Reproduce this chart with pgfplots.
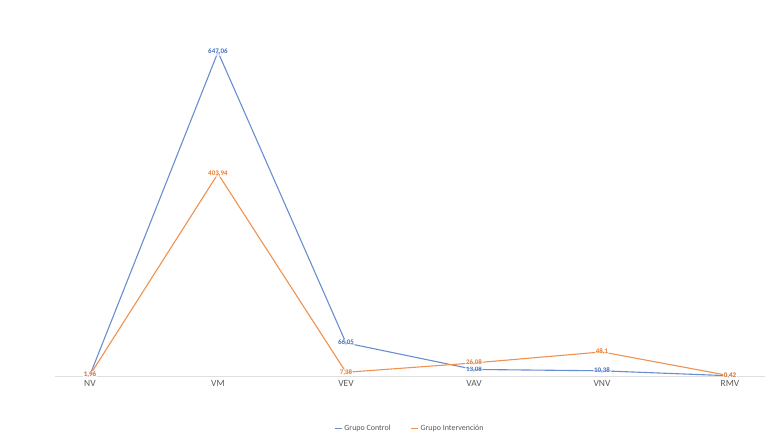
\documentclass[border=0pt]{standalone}
\usepackage{pgfplots}
\pgfplotsset{compat=1.18}
\usepackage{fontspec}
\setmainfont{Carlito}
\definecolor{cblue}{HTML}{4472C4}
\definecolor{corange}{HTML}{ED7D31}
\definecolor{tgray}{HTML}{595959}
\begin{document}
\begin{tikzpicture}
\useasboundingbox (0bp,0bp) rectangle (774bp,438bp);
\begin{axis}[
  at={(55.4bp,62bp)}, anchor=south west,
  scale only axis, width=709.2bp, height=366bp,
  xmin=-0.27, xmax=5.27, ymin=0, ymax=731,
  axis y line=none, axis x line*=bottom,
  x axis line style={draw=gray!25},
  xtick={0,...,5}, xticklabels={NV,VM,VEV,VAV,VNV,RMV},
  major tick length=0pt,
  xticklabel style={font=\fontsize{9.5}{10}\selectfont, text=tgray, yshift=-1bp},
  /pgf/number format/assume math mode=true,
  clip=false,
  legend style={at={(0.5,-0.143)}, anchor=center, draw=none, legend columns=2,
    font=\fontsize{8}{9}\selectfont, text=tgray, /tikz/every even column/.append style={column sep=18bp}},
  legend image code/.code={\draw[#1] (0bp,0bp) -- (7bp,0bp);},
  nodes near coords, point meta=explicit symbolic,
  every node near coord/.append style={font=\fontsize{7}{8}\selectfont\bfseries, anchor=center, fill=white, fill opacity=0.6, text opacity=1, inner sep=0.8bp},
]
\addplot[cblue!80, line width=1.1bp, mark=none, every node near coord/.append style={text=cblue}] coordinates {
 (0,1.96) [1,96] (1,647.06) [647,06] (2,66.05) [66,05] (3,13.08) [13,08] (4,10.38) [10,38] (5,0.42) [0,42]};
\addlegendentry{Grupo Control}
\addplot[corange!85, line width=1.1bp, mark=none, every node near coord/.append style={text=corange}] coordinates {
 (0,1.96) [1,96] (1,403.94) [403,94] (2,7.38) [7,38] (3,26.08) [26,08] (4,48.1) [48,1] (5,0.42) [0,42]};
\addlegendentry{Grupo Intervención}
\end{axis}
\end{tikzpicture}
\end{document}
